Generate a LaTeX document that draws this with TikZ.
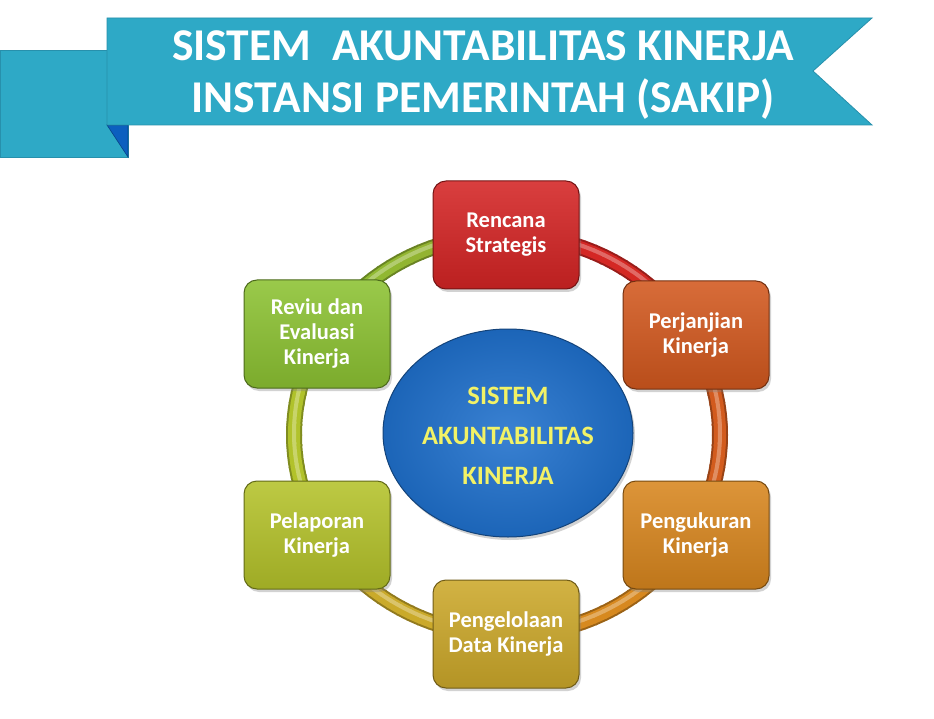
\documentclass[tikz,border=0pt]{standalone}
\usepackage{fontspec}
\setmainfont{Carlito}
\usetikzlibrary{shadows,shapes.geometric}
\definecolor{banner}{HTML}{2EA9C6}
\definecolor{bannerline}{HTML}{2790AC}
\definecolor{fold}{HTML}{0C5FBF}
\definecolor{cR}{HTML}{D42424}
\definecolor{cP}{HTML}{D2581E}
\definecolor{cQ}{HTML}{D8861E}
\definecolor{cD}{HTML}{CCA82A}
\definecolor{cL}{HTML}{B4C22A}
\definecolor{cV}{HTML}{8CC232}
\definecolor{cblue}{HTML}{1F70CC}
\definecolor{ctext}{HTML}{F2F266}
\tikzset{
  stagebox/.style={draw=#1!55!black, line width=1pt, rounded corners=13pt,
    minimum width=146pt, minimum height=108pt, align=center,
    top color=#1!88!white, bottom color=#1!88!black, text=white,
    font=\bfseries\fontsize{22.5}{25}\selectfont,
    drop shadow={shadow xshift=2pt, shadow yshift=-3pt, opacity=0.35}},
  titletext/.style={text=white, font=\bfseries\fontsize{45.5}{52}\selectfont, anchor=base},
  coretext/.style={text=ctext, font=\bfseries\fontsize{26.5}{40}\selectfont, anchor=base}
}
\begin{document}
\begin{tikzpicture}[x=1pt,y=-1pt]
\useasboundingbox (0,0) rectangle (934,719);
\fill[white] (0,0) rectangle (934,719);
% banner
\filldraw[fill=banner, draw=bannerline, line width=0.8pt] (0,50) rectangle (128,157);
\filldraw[fill=fold, draw=fold!70!black, line width=0.6pt] (107,125) -- (128,125) -- (128,157) -- cycle;
\filldraw[fill=banner, draw=bannerline, line width=0.8pt] (107,18) -- (872,18) -- (813,71) -- (872,125) -- (107,125) -- cycle;
\node[titletext] (t1) at (483,61) {SISTEM\ \ AKUNTABILITAS KINERJA};
\node[titletext] (t2) at (483,113) {INSTANSI PEMERINTAH (SAKIP)};
% ring: three passes (dark edge, body, highlight)
\foreach \w/\dy/\shade in {16/0/72!black, 12/0/100!white, 4/-2/70!white} {
  \foreach \a/\ca/\cb in {150/cV/cR, 90/cR/cP, 30/cP/cQ, -30/cQ/cD, -90/cD/cL, -150/cL/cV} {
    \foreach \k in {0,...,19} {
      \pgfmathsetmacro\ts{\a-\k*3+0.2}
      \pgfmathsetmacro\te{\a-\k*3-3.2}
      \pgfmathsetmacro\p{100-\k*0.8}
      \draw[line width=\w pt, color=\ca!\p!\cb!\shade] plot[domain=\ts:\te, samples=4] ({507+213*cos(\x)},{435+\dy-200*sin(\x)});
    }
  }
}
% core
\node[ellipse, draw=cblue!60!black, line width=1pt, minimum width=250pt, minimum height=208pt,
  inner color=cblue!88!white, outer color=cblue!90!black,
  drop shadow={shadow xshift=2pt, shadow yshift=-3pt, opacity=0.35}] (core) at (508,433) {};
\node[coretext] (c1) at (508,404) {SISTEM};
\node[coretext] (c2) at (508,444) {AKUNTABILITAS};
\node[coretext] (c3) at (508,484) {KINERJA};
% stages
\node[stagebox=cR] (s1) at (506,235) {Rencana\\Strategis};
\node[stagebox=cP] (s2) at (696,335) {Perjanjian\\Kinerja};
\node[stagebox=cQ] (s3) at (696,535) {Pengukuran\\Kinerja};
\node[stagebox=cD] (s4) at (506,634) {Pengelolaan\\Data Kinerja};
\node[stagebox=cL] (s5) at (317,535) {Pelaporan\\Kinerja};
\node[stagebox=cV] (s6) at (317,334) {Reviu dan\\Evaluasi\\Kinerja};
\end{tikzpicture}
\end{document}
